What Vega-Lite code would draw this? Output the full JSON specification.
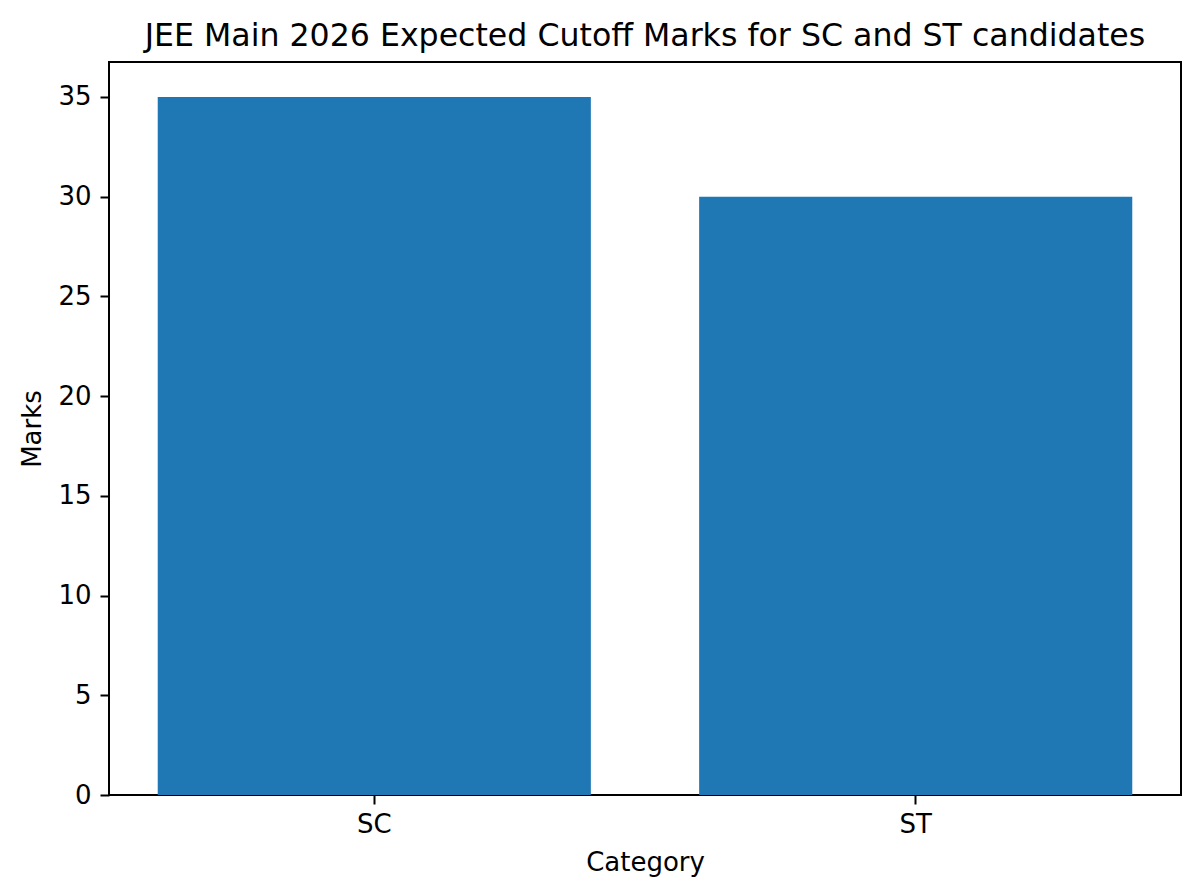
{
  "$schema": "https://vega.github.io/schema/vega-lite/v6.json",
  "autosize": {"type": "none"},
  "padding": {"left": 109, "top": 62, "right": 19, "bottom": 100},
  "width": 1072,
  "height": 733,
  "background": "white",
  "title": {
    "text": "JEE Main 2026 Expected Cutoff Marks for SC and ST candidates",
    "font": "DejaVu Sans",
    "fontSize": 31.6,
    "fontWeight": "normal",
    "color": "black",
    "anchor": "middle",
    "frame": "group",
    "offset": 9
  },
  "config": {
    "view": {"stroke": "black", "strokeWidth": 2},
    "axis": {
      "labelFont": "DejaVu Sans",
      "titleFont": "DejaVu Sans",
      "labelFontSize": 26,
      "titleFontSize": 26,
      "titleFontWeight": "normal",
      "labelColor": "black",
      "titleColor": "black",
      "tickColor": "black",
      "tickSize": 9,
      "tickWidth": 2,
      "domain": false,
      "grid": false
    }
  },
  "data": {
    "values": [
      {"Category": "SC", "Marks": 35},
      {"Category": "ST", "Marks": 30}
    ]
  },
  "mark": {"type": "bar", "color": "#1f77b4"},
  "encoding": {
    "x": {
      "field": "Category",
      "type": "nominal",
      "sort": null,
      "scale": {"paddingInner": 0.2, "paddingOuter": 0.09},
      "axis": {"labelAngle": 0, "labelPadding": 7, "titlePadding": 12, "title": "Category"}
    },
    "y": {
      "field": "Marks",
      "type": "quantitative",
      "scale": {"domain": [0, 36.75], "nice": false, "zero": true},
      "axis": {"values": [0, 5, 10, 15, 20, 25, 30, 35], "labelPadding": 9, "titlePadding": 12, "title": "Marks"}
    }
  }
}
